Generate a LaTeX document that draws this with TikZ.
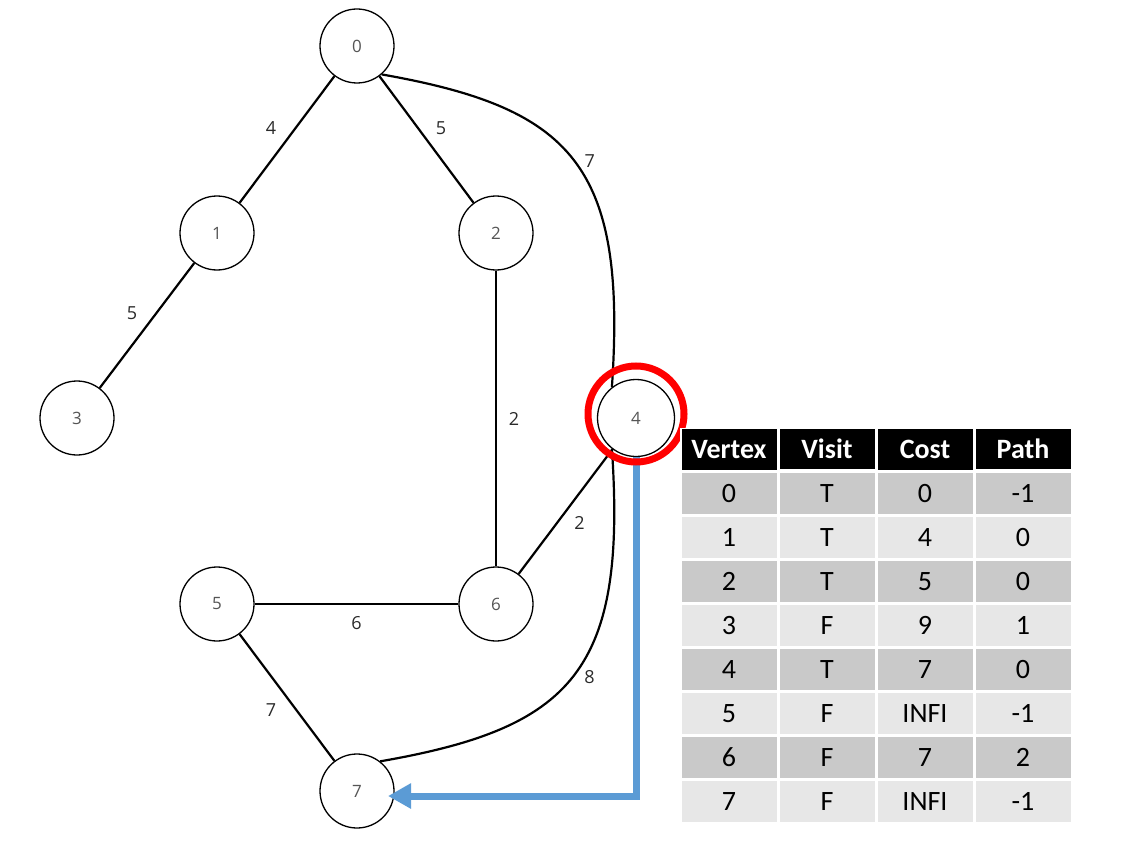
\documentclass[tikz,border=0pt]{standalone}
\usepackage{fontspec}
\setmainfont{Open Sans}
\newfontfamily\tabfont{Carlito}
\usetikzlibrary{arrows.meta,matrix}
\definecolor{rowdark}{HTML}{C9C9C9}
\definecolor{rowlight}{HTML}{E7E7E7}
\definecolor{arrowblue}{HTML}{5B9BD5}
\definecolor{nodetext}{HTML}{555555}
\definecolor{labeltext}{HTML}{2A2A2A}
\definecolor{ringred}{HTML}{FF0000}
\begin{document}
\begin{tikzpicture}[x=1pt,y=-1pt,
  vertex/.style={circle, draw=black, line width=1.3pt, fill=white, minimum size=74pt, inner sep=0pt,
    font=\fontsize{17}{20}\selectfont, text=nodetext},
  edgeline/.style={line width=2.2pt, draw=black},
  elabel/.style={font=\fontsize{18}{21}\selectfont, text=labeltext, inner sep=0pt},
  cell/.style={rectangle, draw=white, line width=1.5pt, minimum width=96.5pt, minimum height=42.4pt,
    inner sep=0pt, outer sep=0pt, font=\tabfont\fontsize{28}{31}\selectfont, text=black},
  bluearrow/.style={draw=arrowblue, line width=7pt, -{Triangle[length=23pt,width=24pt]}},
]
\useasboundingbox (0,0) rectangle (1137,853);

% vertices
\node[vertex] (n0) at (357,46) {0};
\node[vertex] (n1) at (217,233) {1};
\node[vertex] (n2) at (496,233) {2};
\node[vertex] (n3) at (77,418) {3};
\node[vertex, minimum size=77pt] (n4) at (636,418) {4};
\node[vertex] (n5) at (217,604) {5};
\node[vertex] (n6) at (496,604) {6};
\node[vertex] (n7) at (357,791) {7};

% edges
\draw[edgeline] (n0) -- node[elabel, xshift=-16pt, yshift=11.5pt] {4} (n1);
\draw[edgeline] (n0) -- node[elabel, xshift=14.5pt, yshift=11.5pt] {5} (n2);
\draw[edgeline] (n1) -- node[elabel, xshift=-15pt, yshift=12pt] {5} (n3);
\draw[edgeline] (n2) -- node[elabel, xshift=18pt] {2} (n6);
\draw[edgeline] (n4) -- node[elabel, xshift=14pt, yshift=-11pt] {2} (n6);
\draw[edgeline] (n5) -- node[elabel, yshift=-19pt] {6} (n6);
\draw[edgeline] (n5) -- node[elabel, xshift=-16pt, yshift=-12.5pt] {7} (n7);
\draw[edgeline] (n0.-49) .. controls (572,108) and (627,165) .. (n4.128)
  node[elabel, pos=0.5, xshift=16pt, yshift=-1.5pt] {7};
\draw[edgeline] (n4.-128) .. controls (627,671) and (572,728) .. (n7.52)
  node[elabel, pos=0.5, xshift=16pt, yshift=-1.5pt] {8};

% highlight and arrow
\coordinate (acorner) at (636,796);
\coordinate (aend) at (388,796);
\draw[bluearrow] (n4.south) -- (acorner) -- (aend);
\node[circle, draw=ringred, line width=7pt, minimum size=96pt, inner sep=0pt] (ring) at (636,414) {};

% table
\matrix (tab) [matrix of nodes, anchor=north west, inner sep=0pt, outer sep=0pt,
  column sep=0pt, row sep=0pt, nodes={cell},
  row 1/.style={nodes={fill=black, text=white, font=\tabfont\bfseries\fontsize{28}{31}\selectfont}},
  row 2/.style={nodes={fill=rowdark}},
  row 3/.style={nodes={fill=rowlight}},
  row 4/.style={nodes={fill=rowdark}},
  row 5/.style={nodes={fill=rowlight}},
  row 6/.style={nodes={fill=rowdark}},
  row 7/.style={nodes={fill=rowlight}},
  row 8/.style={nodes={fill=rowdark}},
  row 9/.style={nodes={fill=rowlight}}]
  at (680,427) {
Vertex & Visit & Cost & Path \\
0 & T & 0 & -1 \\
1 & T & 4 & 0 \\
2 & T & 5 & 0 \\
3 & F & 9 & 1 \\
4 & T & 7 & 0 \\
5 & F & INFI & -1 \\
6 & F & 7 & 2 \\
7 & F & INFI & -1 \\
};
\end{tikzpicture}
\end{document}
